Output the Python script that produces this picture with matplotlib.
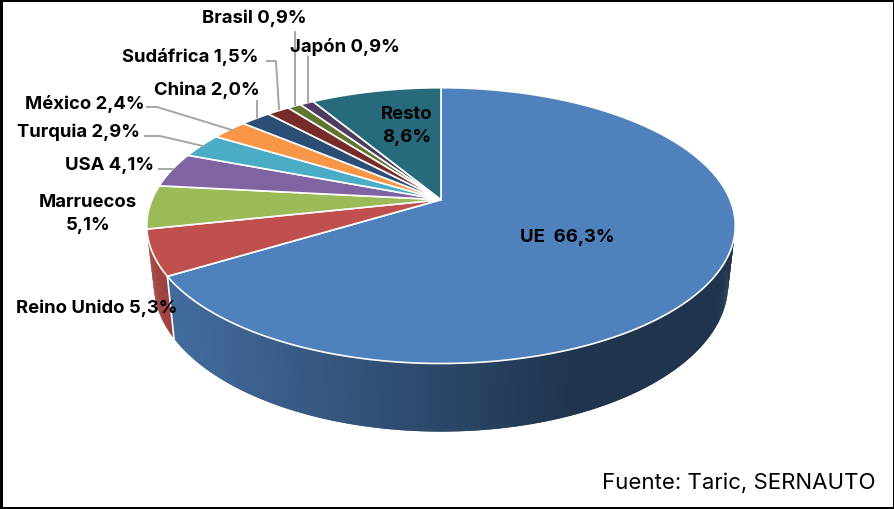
import matplotlib
matplotlib.use("Agg")
import matplotlib.pyplot as plt
import numpy as np
from matplotlib.colors import to_rgb

paises = ["UE", "Reino Unido", "Marruecos", "USA", "Turquia", "México",
          "China", "Sudáfrica", "Brasil", "Japón", "Resto"]
valores = [66.3, 5.3, 5.1, 4.1, 2.9, 2.4, 2.0, 1.5, 0.9, 0.9, 8.6]
colores = ["#4F81BD", "#C0504D", "#9BBB59", "#8064A2", "#4BACC6", "#F79646",
           "#2C4D75", "#772C2A", "#5F7530", "#4D3B62", "#276A7C"]
fuente = "Fuente: Taric, SERNAUTO"

# sitio de cada etiqueta en pixeles
sitio_etiqueta = {
    "UE": (567, 238), "Reino Unido": (97, 308), "Marruecos": (88, 214),
    "USA": (110, 165.5), "Turquia": (78, 132), "México": (85, 104),
    "China": (207, 90), "Sudáfrica": (190, 57), "Brasil": (254.5, 18.5),
    "Japón": (345, 46.5), "Resto": (407, 126),
}
dos_lineas = ["Marruecos", "Resto"]
guias = [
    [(308, 58), (308, 103)],
    [(295, 33), (295, 106)],
    [(267, 62), (276, 62), (279, 110)],
    [(257, 102), (257, 118)],
    [(147, 108), (157, 108), (232, 131)],
    [(145, 137), (160, 137), (203, 147)],
    [(159, 170), (173, 170)],
]

# perspectiva de la tarta: disco de arriba y disco de abajo
CX = 441
K = 0.188
ARRIBA = (200.7, 289, 133)
ABAJO = (257.7, 282, 142)


def borde(angulos, disco):
    cy, a, b = disco
    t = np.radians(angulos)
    x = np.sin(t)
    y = -np.cos(t)
    w = 1 - K * y
    return CX + a * x / w, cy + b * y / w


def sombra(x):
    return np.interp(x, [175, 441, 570], [0.83, 0.55, 0.41])


plt.rcParams["font.family"] = ["Inter", "DejaVu Sans"]
fig = plt.figure(figsize=(8.95, 5.10), dpi=100)
ax = fig.add_axes([0, 0, 1, 1])
ax.set_xlim(0, 895)
ax.set_ylim(510, 0)
ax.set_xticks([])
ax.set_yticks([])
for s in ax.spines.values():
    s.set_linewidth(3.6)
    s.set_color("black")

fin = np.cumsum(valores) * 3.6
ini = fin - np.array(valores) * 3.6

# lateral visible: solo UE y Reino Unido, en tiras solapadas para el degradado
for a0, a1, color in zip(ini[:2], fin[:2], colores[:2]):
    a0 = max(a0, 80)
    pasos = np.arange(a0, a1, 0.5)
    for p0 in pasos:
        p1 = min(p0 + 1.0, a1)
        seg = np.array([p0, p1])
        xa, ya = borde(seg, ARRIBA)
        xb, yb = borde(seg[::-1], ABAJO)
        c = np.array(to_rgb(color)) * sombra(xa.mean())
        ax.fill(np.r_[xa, xb], np.r_[ya, yb], color=c, lw=0, zorder=1)

# linea blanca entre los laterales de UE y Reino Unido
xa, ya = borde(np.array([fin[0]]), ARRIBA)
xb, yb = borde(np.array([fin[0]]), ABAJO)
ax.plot([xa[0], xb[0]], [ya[0], yb[0]], color="white", lw=1.2, zorder=2)

# cara de arriba
for a0, a1, color in zip(ini, fin, colores):
    pasos = np.linspace(a0, a1, max(int((a1 - a0) * 2), 4))
    x, y = borde(pasos, ARRIBA)
    ax.fill(np.r_[CX, x], np.r_[ARRIBA[0], y], facecolor=color,
            edgecolor="white", lw=1.2, joinstyle="round", zorder=3)

for g in guias:
    gx, gy = zip(*g)
    ax.plot(gx, gy, color="#A6A6A6", lw=1.4, zorder=4)

for pais, valor in zip(paises, valores):
    v = f"{valor:.1f}".replace(".", ",") + "%"
    if pais in dos_lineas:
        texto = f"{pais}\n{v}"
    elif pais == "UE":
        texto = f"{pais}  {v}"
    else:
        texto = f"{pais} {v}"
    tx, ty = sitio_etiqueta[pais]
    ax.text(tx, ty, texto, ha="center", va="center", fontsize=13.3,
            fontweight="bold", color="black", linespacing=1.5, zorder=5)

ax.text(739, 483, fuente, ha="center", va="center", fontsize=16, color="black", zorder=5)

fig.savefig("out.png", dpi=100)
